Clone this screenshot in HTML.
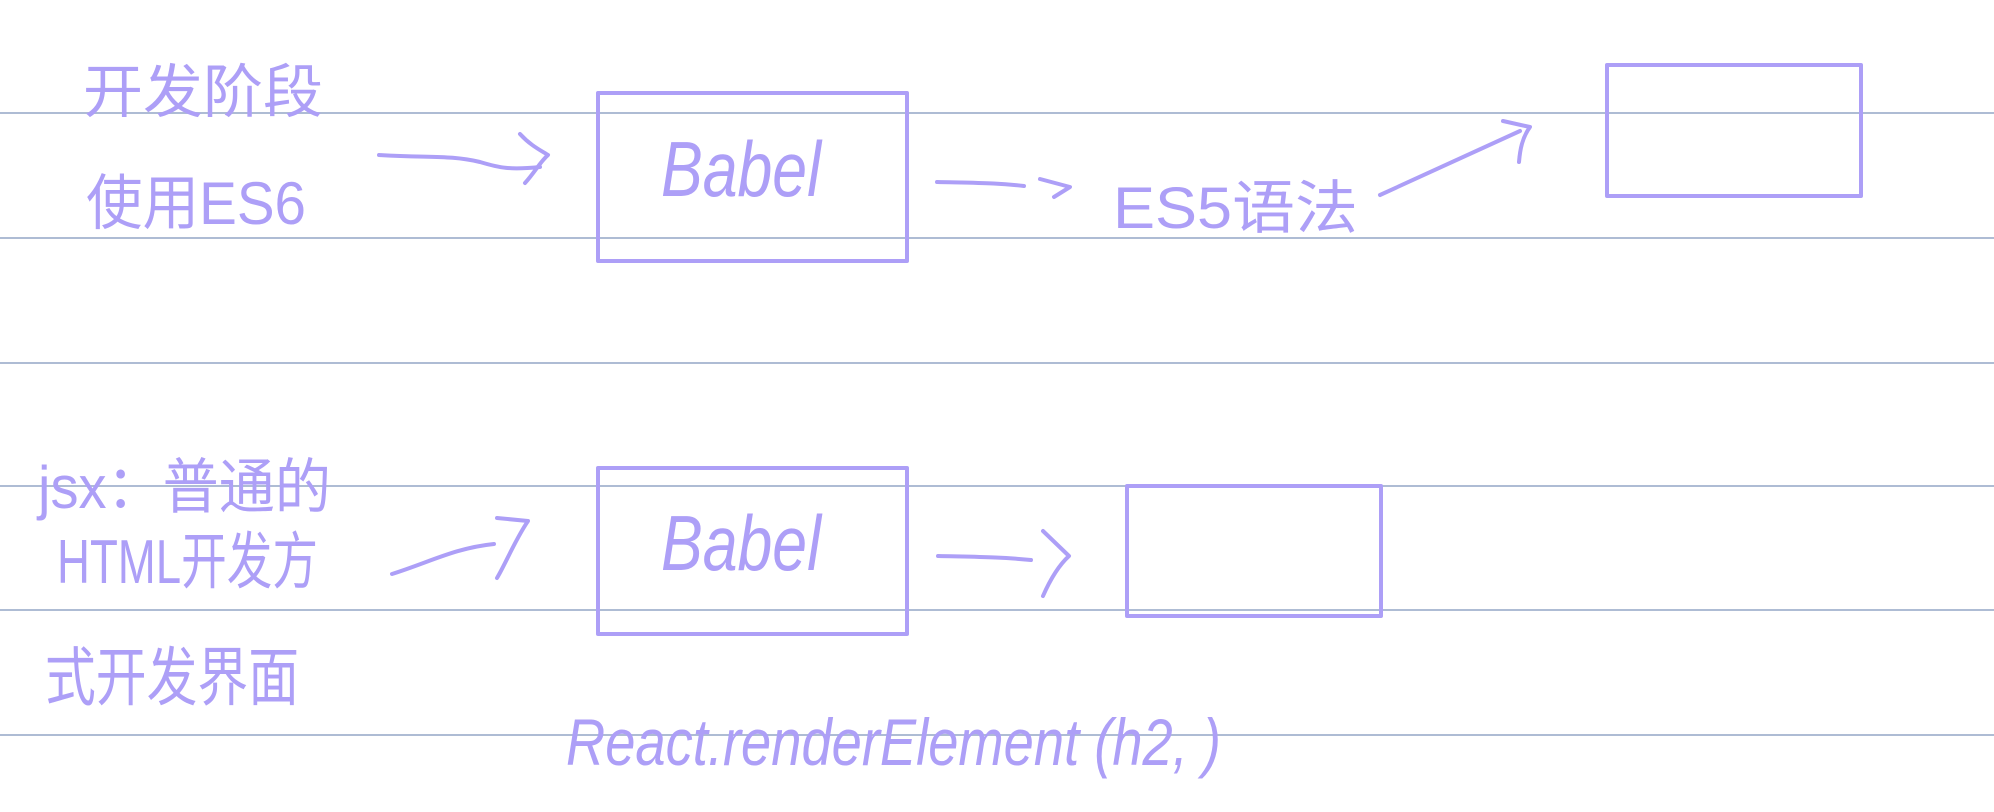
<!DOCTYPE html>
<html><head><meta charset="utf-8"><style>html,body{margin:0;padding:0;background:#fff}svg{display:block}</style></head>
<body>
<svg width="1994" height="812" viewBox="0 0 1994 812" xmlns="http://www.w3.org/2000/svg">
<g stroke="#aebcd4" stroke-width="2">
<line x1="0" y1="113" x2="1994" y2="113"/>
<line x1="0" y1="238" x2="1994" y2="238"/>
<line x1="0" y1="363" x2="1994" y2="363"/>
<line x1="0" y1="486" x2="1994" y2="486"/>
<line x1="0" y1="610" x2="1994" y2="610"/>
<line x1="0" y1="735" x2="1994" y2="735"/>
</g>
<g fill="none" stroke="#ad9ff7" stroke-width="4" stroke-linecap="round" stroke-linejoin="round">
<rect x="598" y="93" width="309" height="168"/>
<rect x="1607" y="65" width="254" height="131"/>
<rect x="598" y="468" width="309" height="166"/>
<rect x="1127" y="486" width="254" height="130"/>
<path d="M379 155 C430 158 450 155 480 162 C500 168 510 170 540 167"/>
<path d="M520 134 C530 145 540 150 548 155 C540 162 535 172 525 183"/>
<path d="M937 182 C980 183 1000 183 1024 186"/>
<path d="M1040 179 L1070 187 L1054 197"/>
<path d="M1380 195 L1520 131"/>
<path d="M1503 121 L1530 127 C1522 138 1520 150 1519 162"/>
<path d="M392 574 C430 562 455 548 494 544"/>
<path d="M497 518 L528 521 C515 540 505 565 497 578"/>
<path d="M938 556 C980 557 1000 557 1031 560"/>
<path d="M1043 531 L1069 556 C1058 566 1050 580 1043 596"/>
</g>
<g fill="#ad9ff7" font-family="'Liberation Sans','Noto Sans CJK SC',sans-serif">
<text x="83" y="112" font-size="58" textLength="240" lengthAdjust="spacingAndGlyphs">开发阶段</text>
<text x="86" y="224" font-size="60" textLength="220" lengthAdjust="spacingAndGlyphs">使用ES6</text>
<text x="661" y="196" font-size="78" font-style="italic" textLength="160" lengthAdjust="spacingAndGlyphs">Babel</text>
<text x="1113" y="228" font-size="58" textLength="245" lengthAdjust="spacingAndGlyphs">ES5语法</text>
<text x="38" y="508" font-size="60" textLength="293" lengthAdjust="spacingAndGlyphs">jsx：普通的</text>
<text x="57" y="583" font-size="62" textLength="261" lengthAdjust="spacingAndGlyphs">HTML开发方</text>
<text x="45" y="700" font-size="64" textLength="254" lengthAdjust="spacingAndGlyphs">式开发界面</text>
<text x="661" y="570" font-size="78" font-style="italic" textLength="160" lengthAdjust="spacingAndGlyphs">Babel</text>
<text x="566" y="765" font-size="66" font-style="italic" textLength="655" lengthAdjust="spacingAndGlyphs">React.renderElement (h2, )</text>
</g>
</svg>
</body></html>
